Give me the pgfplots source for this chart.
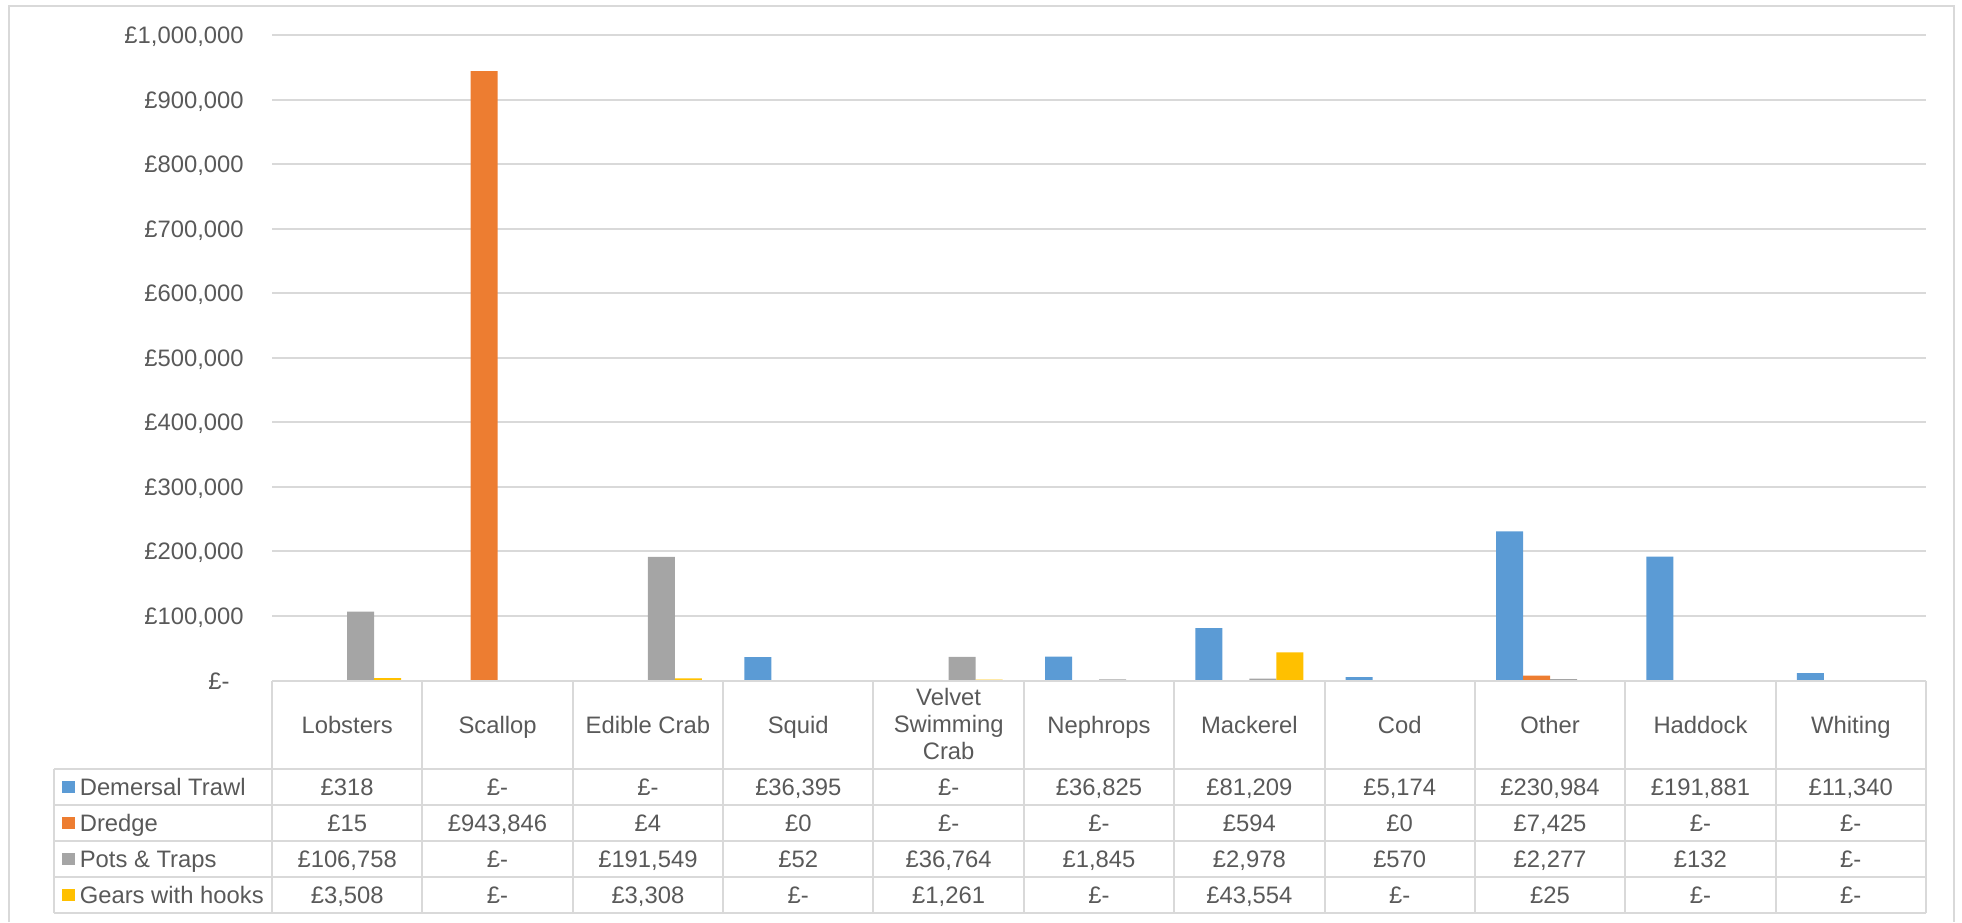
\documentclass[border=0pt]{standalone}
\usepackage{pgfplots}
\pgfplotsset{compat=1.18}
\usepackage{pgfplotstable}
\usepackage{fontspec}
\setmainfont{Liberation Sans}
\definecolor{txt}{HTML}{595959}
\definecolor{grd}{HTML}{D9D9D9}
\definecolor{cA}{HTML}{5B9BD5}
\definecolor{cB}{HTML}{ED7D31}
\definecolor{cC}{HTML}{A5A5A5}
\definecolor{cD}{HTML}{FFC000}
\newcommand{\cf}{\fontsize{11.9}{13.6}\selectfont}

\pgfplotstableread{
x dt dr pt gh
0 318 15 106758 3508
1 0 943846 0 0
2 0 4 191549 3308
3 36395 0.3 52 0
4 0 0 36764 1261
5 36825 0 1845 0
6 81209 594 2978 43554
7 5174 0.2 570 0
8 230984 7425 2277 25
9 191881 0 132 0
10 11340 0 0 0
}\data

\pgfplotsset{sqlegend/.style={legend image code/.code={\fill[##1] (0pt,-3.2pt) rectangle (6.4pt,3.2pt);}}}

\begin{document}
\begin{tikzpicture}
\useasboundingbox (0,0) rectangle (981pt,461pt);
\begin{axis}[
  at={(136pt,120.75pt)}, anchor=south west,
  scale only axis, width=827pt, height=322.75pt,
  xmin=-0.5, xmax=10.5, ymin=0, ymax=1000000,
  enlargelimits=false,
  ybar=0pt, bar width=13.5pt,
  axis line style={draw=none},
  tick style={draw=none},
  major tick length=0pt,
  ymajorgrids, major grid style={grd, line width=1pt},
  ytick={0,100000,200000,300000,400000,500000,600000,700000,800000,900000,1000000},
  scaled y ticks=false,
  yticklabels={{£-\hspace*{7pt}},{£100,000},{£200,000},{£300,000},{£400,000},{£500,000},{£600,000},{£700,000},{£800,000},{£900,000},{£1,000,000}},
  xtick={0,1,2,3,4,5,6,7,8,9,10},
  xticklabels={Lobsters,Scallop,Edible Crab,Squid,{Velvet\\Swimming\strut\\Crab\strut},Nephrops,Mackerel,Cod,Other,Haddock,Whiting},
  xticklabel style={align=center, anchor=center, inner sep=0pt, yshift=-23.65pt, font=\cf, text=txt, execute at begin node=\strut},
  yticklabel style={anchor=base east, inner sep=0pt, xshift=-14pt, yshift=-4.26pt, font=\cf, text=txt},
  legend style={at={(-0.12696,-0.13711)}, anchor=north west, draw=none, fill=none, inner sep=0pt, outer sep=0pt, row sep=0pt, column sep=2.5pt, font=\cf, text=txt, nodes={inner sep=0pt, text height=13.3pt, text depth=4.7pt}},
  legend cell align=left,
]
\addplot[fill=cA, draw=none, sqlegend] table[x=x,y=dt]{\data};
\addlegendentry{Demersal Trawl}
\addplot[fill=cB, draw=none, sqlegend] table[x=x,y=dr]{\data};
\addlegendentry{Dredge}
\addplot[fill=cC, draw=none, sqlegend] table[x=x,y=pt]{\data};
\addlegendentry{Pots \& Traps}
\addplot[fill=cD, draw=none, sqlegend] table[x=x,y=gh]{\data};
\addlegendentry{Gears with hooks}
\end{axis}
\begin{scope}[x=0.5pt, y=-0.5pt, shift={(0pt,461pt)}]
\draw[grd, line width=1pt] (9,922) -- (9,6) -- (1954,6) -- (1954,922);
\draw[grd, line width=1pt] (272,680.5) -- (1926,680.5);
\foreach \yy in {769.3,805.2,841,876.8,912.7}
  \draw[grd, line width=1pt] (54,\yy) -- (1926,\yy);
\draw[grd, line width=1pt] (54,769.3) -- (54,912.7);
\foreach \k in {0,...,11}
  \draw[grd, line width=1pt] ({272+150.36*\k},680.5) -- ({272+150.36*\k},912.7);
\foreach \k/\a/\b/\c/\d in {
0/£318/£15/{£106,758}/{£3,508},
1/£-/{£943,846}/£-/£-,
2/£-/£4/{£191,549}/{£3,308},
3/{£36,395}/£0/£52/£-,
4/£-/£-/{£36,764}/{£1,261},
5/{£36,825}/£-/{£1,845}/£-,
6/{£81,209}/£594/{£2,978}/{£43,554},
7/{£5,174}/£0/£570/£-,
8/{£230,984}/{£7,425}/{£2,277}/£25,
9/{£191,881}/£-/£132/£-,
10/{£11,340}/£-/£-/£-}{
  \node[anchor=base, inner sep=0pt, font=\cf, text=txt] at ({272+150.36*(\k+0.5)},795.75) {\a};
  \node[anchor=base, inner sep=0pt, font=\cf, text=txt] at ({272+150.36*(\k+0.5)},831.6) {\b};
  \node[anchor=base, inner sep=0pt, font=\cf, text=txt] at ({272+150.36*(\k+0.5)},867.4) {\c};
  \node[anchor=base, inner sep=0pt, font=\cf, text=txt] at ({272+150.36*(\k+0.5)},903.25) {\d};
}
\end{scope}
\end{tikzpicture}
\end{document}
